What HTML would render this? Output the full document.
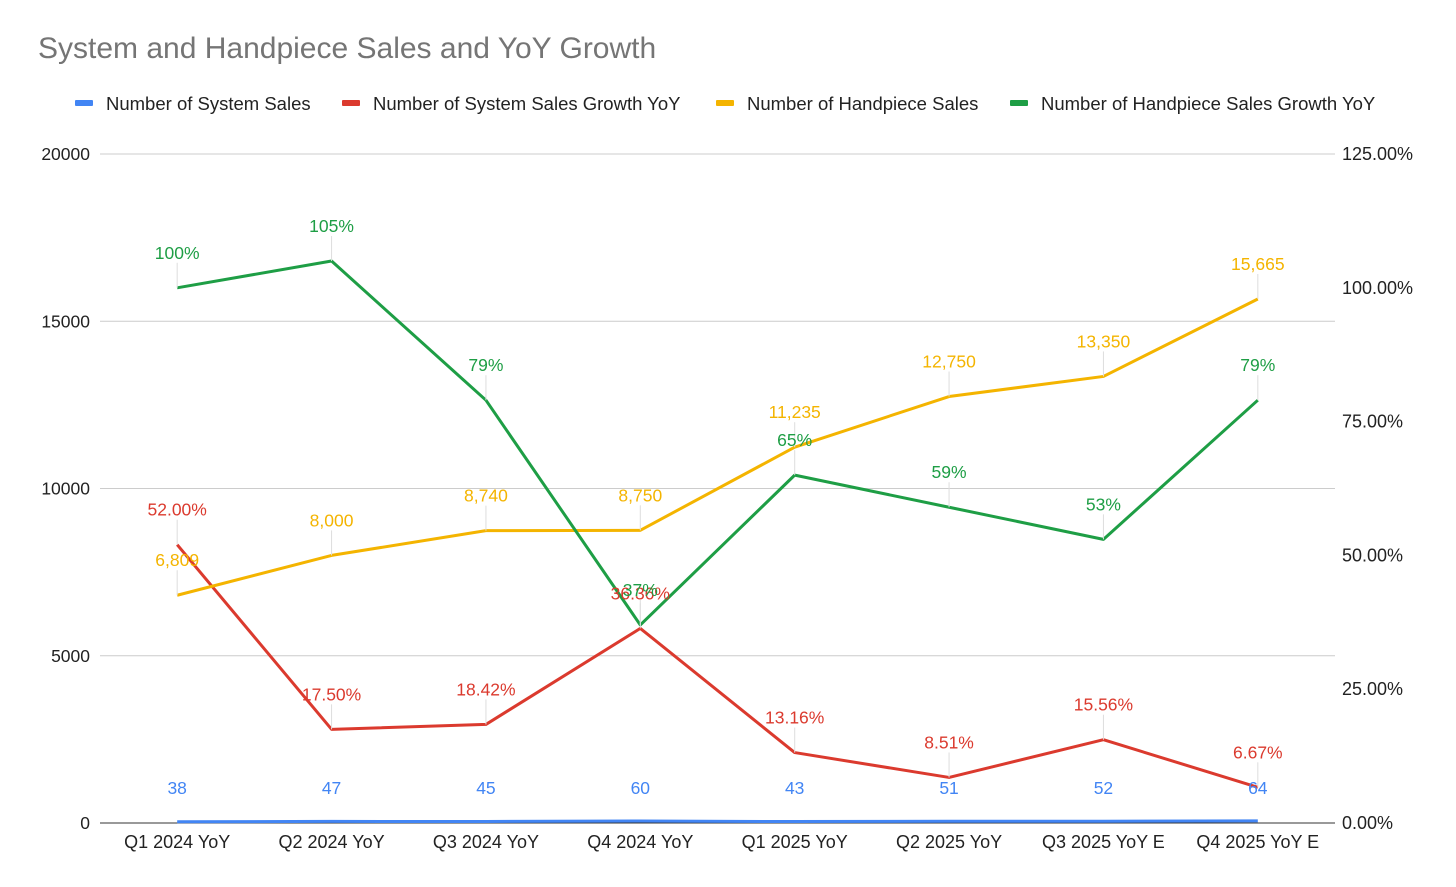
<!DOCTYPE html>
<html><head><meta charset="utf-8"><style>
body{margin:0;background:#fff;font-family:"Liberation Sans",Arial,sans-serif}
svg text{font-family:"Liberation Sans",Arial,sans-serif}
</style></head><body>
<svg id="chart" width="1456" height="882" xmlns="http://www.w3.org/2000/svg">
<rect width="1456" height="882" fill="#fff"/>
<text x="38" y="58" font-size="30" fill="#757575">System and Handpiece Sales and YoY Growth</text>
<g id="legend"></g>
<g id="grid"></g><g id="series"></g><g id="labels"></g>
</svg>
<script>
const categories=["Q1 2024 YoY","Q2 2024 YoY","Q3 2024 YoY","Q4 2024 YoY","Q1 2025 YoY","Q2 2025 YoY","Q3 2025 YoY E","Q4 2025 YoY E"];
const systemSales=[38,47,45,60,43,51,52,64];
const systemGrowth=[52.00,17.50,18.42,36.36,13.16,8.51,15.56,6.67];
const handpieceSales=[6809,8000,8740,8750,11235,12750,13350,15665];
const handpieceGrowth=[100,105,79,37,65,59,53,79];
const leftTicks=[0,5000,10000,15000,20000];
const rightTicks=["0.00%","25.00%","50.00%","75.00%","100.00%","125.00%"];

const NS="http://www.w3.org/2000/svg";
const L=100,R=1335,T=154,B=823;
const xs=i=>L+(R-L)/categories.length*(i+0.5);
const yl=v=>B-(v/20000)*(B-T);
const yr=v=>B-(v/125)*(B-T);
function mk(tag,attrs,parent,text){const e=document.createElementNS(NS,tag);for(const k in attrs)e.setAttribute(k,attrs[k]);if(text!=null)e.textContent=text;parent.appendChild(e);return e;}
const grid=document.getElementById('grid'),ser=document.getElementById('series'),lab=document.getElementById('labels'),leg=document.getElementById('legend');
leftTicks.forEach((t,i)=>{const y=yl(t);
 const g=mk('line',{x1:L,x2:R,y1:y,y2:y,stroke:i==0?'#333':'#ccc','stroke-width':1},grid);
 
 const tx=mk('text',{x:90,y:y+6,'text-anchor':'end','font-size':17.5,fill:'#222'},grid,String(t));
 });
rightTicks.forEach((t,i)=>{const y=yr(i*25);
 const tx=mk('text',{x:1342,y:y+6,'font-size':18,fill:'#222'},grid,t);
 });
categories.forEach((c,i)=>{const tx=mk('text',{x:xs(i),y:848,'text-anchor':'middle','font-size':18,fill:'#222'},grid,c);
 });
const series=[
 {vals:systemSales,y:yl,color:'#4285f4',fmt:v=>String(v),name:'system-sales',fixedY:794,label:'Number of System Sales'},
 {vals:systemGrowth,y:yr,color:'#db3a2e',fmt:v=>v.toFixed(2)+'%',name:'system-growth',label:'Number of System Sales Growth YoY'},
 {vals:handpieceSales,y:yl,color:'#f4b400',fmt:v=>v.toLocaleString('en-US'),name:'handpiece-sales',label:'Number of Handpiece Sales'},
 {vals:handpieceGrowth,y:yr,color:'#1e9e45',fmt:v=>v+'%',name:'handpiece-growth',label:'Number of Handpiece Sales Growth YoY'}];
series.forEach(s=>{
 const pts=s.vals.map((v,i)=>xs(i)+','+s.y(v)).join(' ');
 const p=mk('polyline',{points:pts,fill:'none',stroke:s.color,'stroke-width':3,'stroke-linejoin':'round'},ser);
 
 s.vals.forEach((v,i)=>{const py=s.y(v);const ly=s.fixedY||py-29;
  if(!s.fixedY){const ln=mk('line',{x1:xs(i),x2:xs(i),y1:ly+4,y2:py,stroke:'#ddd','stroke-width':1},lab);
   }
  const t=mk('text',{x:xs(i),y:ly,'text-anchor':'middle','font-size':17.5,fill:s.color},lab,s.fmt(v));
  });
});
const legX=[75,342,716,1010];
series.forEach((s,i)=>{
 const r=mk('rect',{x:legX[i],y:100,width:18,height:6,rx:1,fill:s.color},leg);
 
 const t=mk('text',{x:legX[i]+31,y:110,'font-size':18.5,fill:'#222'},leg,s.label);
 });
</script>
</body></html>
